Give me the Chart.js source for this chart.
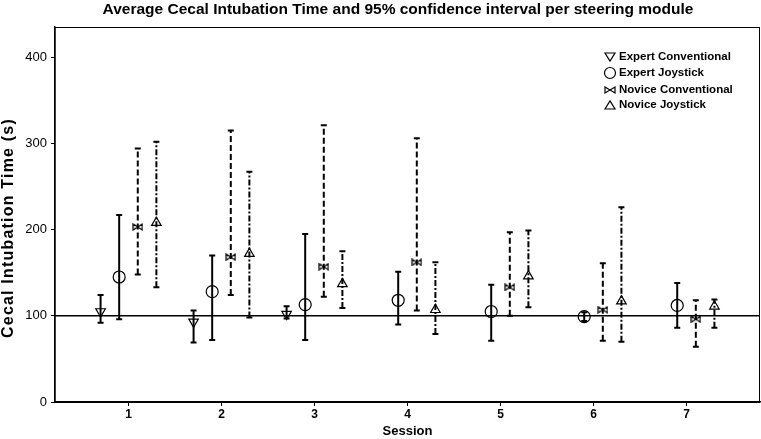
<!DOCTYPE html>
<html>
<head>
<meta charset="utf-8">
<script src="https://cdn.jsdelivr.net/npm/chart.js@4.4.1/dist/chart.umd.min.js"></script>
<style>
  html, body { margin: 0; padding: 0; background: #fff; overflow: hidden; }
  #wrap { width: 761px; height: 439px; position: relative; }
  canvas { display: block; }
</style>
</head>
<body>
<div id="wrap"><canvas id="chart"></canvas></div>
<script>
// Data
const sessions = [1, 2, 3, 4, 5, 6, 7];
const yTicks = [0, 100, 200, 300, 400];
const groupNames = ['Expert Conventional', 'Expert Joystick', 'Novice Conventional', 'Novice Joystick'];
const groupOffsets = [-0.3, -0.1, 0.1, 0.3];

const expertConvMean = [105, 93, 102, null, null, null, null];
const expertConvLow  = [92, 69, 97, null, null, null, null];
const expertConvHigh = [124, 106, 111, null, null, null, null];

const expertJoyMean = [145, 128, 113, 118, 105, 99, 112];
const expertJoyLow  = [96, 72, 72, 90, 71, 94, 86];
const expertJoyHigh = [217, 170, 195, 151, 136, 104, 138];

const noviceConvMean = [203, 168, 157, 162, 133, 107, 96];
const noviceConvLow  = [148, 124, 122, 106, 100, 71, 64];
const noviceConvHigh = [294, 315, 321, 306, 197, 161, 118];

const noviceJoyMean = [208, 172, 137, 107, 146, 117, 111];
const noviceJoyLow  = [133, 98, 109, 79, 110, 70, 86];
const noviceJoyHigh = [302, 267, 175, 162, 199, 226, 119];

const referenceLine = 100;

const FONT = "'Liberation Sans', Arial, sans-serif";

// bow-tie marker, drawn on a small canvas
function makeBowtie(w, h) {
    const c = document.createElement('canvas');
    c.width = w; c.height = h;
    const g = c.getContext('2d');
    g.strokeStyle = '#000';
    g.lineWidth = 1.2;
    g.beginPath();
    g.moveTo(1, 1); g.lineTo(w - 1, h - 1); g.lineTo(w - 1, 1); g.lineTo(1, h - 1); g.closePath();
    g.stroke();
    return c;
}
const bowtie = makeBowtie(11, 8);

function points(means, k) {
    return sessions.map((s, i) => means[i] == null ? null : { x: s + groupOffsets[k], y: means[i] }).filter(p => p);
}

const groups = [
    { mean: expertConvMean, low: expertConvLow, high: expertConvHigh, dash: [], style: 'triangle', rot: 180 },
    { mean: expertJoyMean, low: expertJoyLow, high: expertJoyHigh, dash: [], style: 'circle', rot: 0 },
    { mean: noviceConvMean, low: noviceConvLow, high: noviceConvHigh, dash: [6, 3], style: bowtie, rot: 0 },
    { mean: noviceJoyMean, low: noviceJoyLow, high: noviceJoyHigh, dash: [6, 2, 2, 2], style: 'triangle', rot: 0 }
];

// Error bars, reference line, legend and titles
const extras = {
    id: 'extras',
    beforeDatasetsDraw(chart) {
        const { ctx, scales: { x, y } } = chart;
        ctx.save();
        ctx.strokeStyle = '#000';
        groups.forEach((g, k) => {
            sessions.forEach((s, i) => {
                if (g.mean[i] == null) return;
                const px = x.getPixelForValue(s + groupOffsets[k]);
                const yl = y.getPixelForValue(g.low[i]);
                const yh = y.getPixelForValue(g.high[i]);
                ctx.lineWidth = 2;
                ctx.setLineDash(g.dash);
                ctx.beginPath();
                ctx.moveTo(px, yl); ctx.lineTo(px, yh);
                ctx.stroke();
                ctx.setLineDash([]);
                ctx.beginPath();
                ctx.moveTo(px - 3, yl); ctx.lineTo(px + 3, yl);
                ctx.moveTo(px - 3, yh); ctx.lineTo(px + 3, yh);
                ctx.stroke();
            });
        });
        ctx.restore();
    },
    afterDatasetsDraw(chart) {
        const { ctx, chartArea: a, scales: { y } } = chart;
        ctx.save();
        ctx.strokeStyle = '#000';
        ctx.lineWidth = 1.5;
        const py = y.getPixelForValue(referenceLine);
        ctx.beginPath();
        ctx.moveTo(a.left, py); ctx.lineTo(a.right, py);
        ctx.stroke();
        ctx.lineWidth = 1;
        ctx.strokeRect(a.left, a.top + 0.5, a.right - a.left - 0.5, a.bottom - a.top);
        ctx.restore();
    },
    afterDraw(chart) {
        const { ctx, chartArea: a } = chart;
        ctx.save();
        ctx.fillStyle = '#000';
        ctx.textBaseline = 'middle';
        ctx.textAlign = 'center';
        ctx.font = 'bold 15.5px ' + FONT;
        ctx.fillText('Average Cecal Intubation Time and 95% confidence interval per steering module', 398, 10);
        ctx.font = 'bold 13px ' + FONT;
        ctx.fillText('Session', (a.left + a.right) / 2, 431);
        ctx.save();
        ctx.translate(9, 228);
        ctx.rotate(-Math.PI / 2);
        ctx.font = 'bold 16px ' + FONT;
        ctx.letterSpacing = '1.2px';
        ctx.fillText('Cecal Intubation Time (s)', 0, 0);
        ctx.restore();

        // legend
        const lx = 610, ly = [57, 73, 90, 105];
        ctx.textAlign = 'left';
        ctx.font = 'bold 11.5px ' + FONT;
        ctx.strokeStyle = '#000';
        ctx.lineWidth = 1.2;
        groupNames.forEach((name, k) => {
            const cy = ly[k];
            ctx.beginPath();
            if (k === 0) {
                ctx.moveTo(lx - 5, cy - 4); ctx.lineTo(lx + 5, cy - 4); ctx.lineTo(lx, cy + 4); ctx.closePath();
            } else if (k === 1) {
                ctx.arc(lx, cy, 5.5, 0, Math.PI * 2);
            } else if (k === 2) {
                ctx.moveTo(lx - 5, cy - 3); ctx.lineTo(lx + 5, cy + 3); ctx.lineTo(lx + 5, cy - 3); ctx.lineTo(lx - 5, cy + 3); ctx.closePath();
            } else {
                ctx.moveTo(lx - 5, cy + 4); ctx.lineTo(lx + 5, cy + 4); ctx.lineTo(lx, cy - 4); ctx.closePath();
            }
            ctx.stroke();
            ctx.fillText(name, 619, cy);
        });
        ctx.restore();
    }
};

new Chart(document.getElementById('chart'), {
    type: 'scatter',
    data: {
        datasets: groups.map((g, k) => ({
            label: groupNames[k],
            data: points(g.mean, k),
            pointStyle: g.style,
            rotation: g.rot,
            pointRadius: g.style === 'circle' ? 6 : 5.5,
            pointBorderWidth: 1.2,
            pointBorderColor: '#000',
            pointBackgroundColor: 'rgba(255,255,255,0)',
            showLine: false
        }))
    },
    options: {
        responsive: true,
        maintainAspectRatio: false,
        animation: false,
        layout: { autoPadding: false, padding: { top: 27, right: 1, left: 0, bottom: 0 } },
        plugins: {
            legend: { display: false },
            tooltip: { enabled: false }
        },
        scales: {
            x: {
                type: 'linear',
                min: 0.21,
                max: 7.79,
                afterBuildTicks: s => { s.ticks = sessions.map(v => ({ value: v })); },
                afterFit: s => { s.height = 37; s.paddingLeft = 0; s.paddingRight = 0; },
                grid: { drawOnChartArea: false, drawTicks: true, tickLength: 4, color: '#000' },
                border: { display: true, color: '#000', width: 1.5 },
                ticks: { color: '#000', padding: 1, font: { family: FONT, size: 12, weight: 'bold' } }
            },
            y: {
                min: 0,
                max: 435,
                afterBuildTicks: s => { s.ticks = yTicks.map(v => ({ value: v })); },
                afterFit: s => { s.width = 55; s.paddingTop = 0; s.paddingBottom = 0; },
                grid: { drawOnChartArea: false, drawTicks: true, tickLength: 4, color: '#000' },
                border: { display: true, color: '#000', width: 1.5 },
                ticks: { color: '#000', padding: 4, font: { family: FONT, size: 13 } }
            }
        }
    },
    plugins: [extras]
});
</script>
</body>
</html>
